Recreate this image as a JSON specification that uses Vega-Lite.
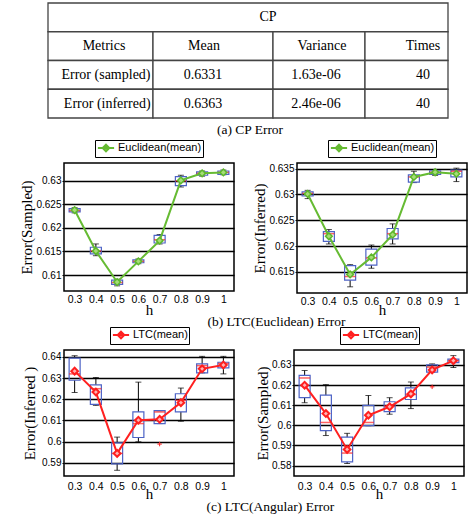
{
  "$schema": "https://vega.github.io/schema/vega-lite/v6.json",
  "padding": {"left": 19, "top": 2, "right": 0, "bottom": 0},
  "autosize": {"type": "pad"},
  "background": "white",
  "spacing": 1,
  "resolve": {"scale": {"color": "independent"}, "legend": {"color": "independent"}},
  "datasets": {
    "table": [
      {"row": "r0", "col_start": 0, "col_end": 1, "label_pos": 0.55, "label": "CP"},
      {"row": "r1", "col_start": 0, "col_end": 0.2625, "label_pos": 0.14, "label": "Metrics"},
      {"row": "r1", "col_start": 0.2625, "col_end": 0.5625, "label_pos": 0.39, "label": "Mean"},
      {"row": "r1", "col_start": 0.5625, "col_end": 0.7925, "label_pos": 0.685, "label": "Variance"},
      {"row": "r1", "col_start": 0.7925, "col_end": 1, "label_pos": 0.9375, "label": "Times"},
      {"row": "r2", "col_start": 0, "col_end": 0.2625, "label_pos": 0.145, "label": "Error (sampled)"},
      {"row": "r2", "col_start": 0.2625, "col_end": 0.5625, "label_pos": 0.3875, "label": "0.6331"},
      {"row": "r2", "col_start": 0.5625, "col_end": 0.7925, "label_pos": 0.67, "label": "1.63e-06"},
      {"row": "r2", "col_start": 0.7925, "col_end": 1, "label_pos": 0.9375, "label": "40"},
      {"row": "r3", "col_start": 0, "col_end": 0.2625, "label_pos": 0.148, "label": "Error (inferred)"},
      {"row": "r3", "col_start": 0.2625, "col_end": 0.5625, "label_pos": 0.3875, "label": "0.6363"},
      {"row": "r3", "col_start": 0.5625, "col_end": 0.7925, "label_pos": 0.67, "label": "2.46e-06"},
      {"row": "r3", "col_start": 0.7925, "col_end": 1, "label_pos": 0.9375, "label": "40"}
    ],
    "eucSampled": [
      {"h": "0.3", "lo": 0.6232, "q1": 0.6234, "med": 0.6237, "q3": 0.6241, "hi": 0.6243, "mean": 0.6238, "s": "Euclidean(mean)"},
      {"h": "0.4", "lo": 0.6141, "q1": 0.6145, "med": 0.6151, "q3": 0.6159, "hi": 0.6166, "mean": 0.6151, "s": "Euclidean(mean)"},
      {"h": "0.5", "lo": 0.6077, "q1": 0.6080, "med": 0.6084, "q3": 0.6089, "hi": 0.6091, "mean": 0.6085, "s": "Euclidean(mean)"},
      {"h": "0.6", "lo": 0.6124, "q1": 0.6126, "med": 0.6129, "q3": 0.6132, "hi": 0.6134, "mean": 0.6129, "s": "Euclidean(mean)"},
      {"h": "0.7", "lo": 0.6166, "q1": 0.6168, "med": 0.6175, "q3": 0.6184, "hi": 0.6186, "mean": 0.6173, "s": "Euclidean(mean)"},
      {"h": "0.8", "lo": 0.6287, "q1": 0.6290, "med": 0.6300, "q3": 0.6309, "hi": 0.6312, "mean": 0.6301, "s": "Euclidean(mean)"},
      {"h": "0.9", "lo": 0.6310, "q1": 0.6312, "med": 0.6316, "q3": 0.6319, "hi": 0.6321, "mean": 0.6316, "s": "Euclidean(mean)"},
      {"h": "1", "lo": 0.6313, "q1": 0.6314, "med": 0.6318, "q3": 0.6321, "hi": 0.6323, "mean": 0.6318, "s": "Euclidean(mean)"}
    ],
    "eucInferred": [
      {"h": "0.3", "lo": 0.6292, "q1": 0.6297, "med": 0.6302, "q3": 0.6305, "hi": 0.6308, "mean": 0.6301, "s": "Euclidean(mean)"},
      {"h": "0.4", "lo": 0.6204, "q1": 0.6209, "med": 0.6224, "q3": 0.6228, "hi": 0.6232, "mean": 0.6219, "s": "Euclidean(mean)"},
      {"h": "0.5", "lo": 0.6121, "q1": 0.6134, "med": 0.6141, "q3": 0.6162, "hi": 0.6164, "mean": 0.6145, "s": "Euclidean(mean)"},
      {"h": "0.6", "lo": 0.6157, "q1": 0.6163, "med": 0.6177, "q3": 0.6194, "hi": 0.6202, "mean": 0.6178, "s": "Euclidean(mean)"},
      {"h": "0.7", "lo": 0.6204, "q1": 0.6214, "med": 0.6224, "q3": 0.6234, "hi": 0.6243, "mean": 0.6222, "s": "Euclidean(mean)"},
      {"h": "0.8", "lo": 0.6323, "q1": 0.6324, "med": 0.6334, "q3": 0.6338, "hi": 0.6345, "mean": 0.6334, "s": "Euclidean(mean)"},
      {"h": "0.9", "lo": 0.6337, "q1": 0.6339, "med": 0.6343, "q3": 0.6346, "hi": 0.6348, "mean": 0.6343, "s": "Euclidean(mean)"},
      {"h": "1", "lo": 0.6325, "q1": 0.6334, "med": 0.6345, "q3": 0.6347, "hi": 0.6351, "mean": 0.6340, "s": "Euclidean(mean)"}
    ],
    "ltcInferred": [
      {"h": "0.3", "lo": 0.6232, "q1": 0.6290, "med": 0.6320, "q3": 0.6395, "hi": 0.6406, "mean": 0.6333, "s": "LTC(mean)"},
      {"h": "0.4", "lo": 0.6171, "q1": 0.6176, "med": 0.6250, "q3": 0.6268, "hi": 0.6303, "mean": 0.6234, "s": "LTC(mean)"},
      {"h": "0.5", "lo": 0.5864, "q1": 0.5894, "med": 0.5944, "q3": 0.5994, "hi": 0.6021, "mean": 0.5944, "s": "LTC(mean)"},
      {"h": "0.6", "lo": 0.5999, "q1": 0.6019, "med": 0.6085, "q3": 0.6140, "hi": 0.6281, "mean": 0.6101, "s": "LTC(mean)"},
      {"h": "0.7", "lo": 0.6085, "q1": 0.6085, "med": 0.6140, "q3": 0.6146, "hi": 0.6146, "mean": 0.6105, "out": 0.5988, "s": "LTC(mean)"},
      {"h": "0.8", "lo": 0.6096, "q1": 0.6140, "med": 0.6195, "q3": 0.6226, "hi": 0.6253, "mean": 0.6184, "s": "LTC(mean)"},
      {"h": "0.9", "lo": 0.6325, "q1": 0.6325, "med": 0.6359, "q3": 0.6367, "hi": 0.6403, "mean": 0.6344, "s": "LTC(mean)"},
      {"h": "1", "lo": 0.6320, "q1": 0.6348, "med": 0.6369, "q3": 0.6375, "hi": 0.6403, "mean": 0.6362, "s": "LTC(mean)"}
    ],
    "ltcSampled": [
      {"h": "0.3", "lo": 0.6112, "q1": 0.6137, "med": 0.6235, "q3": 0.6248, "hi": 0.6272, "mean": 0.6199, "s": "LTC(mean)"},
      {"h": "0.4", "lo": 0.5949, "q1": 0.5973, "med": 0.6014, "q3": 0.6150, "hi": 0.6202, "mean": 0.6058, "s": "LTC(mean)"},
      {"h": "0.5", "lo": 0.5810, "q1": 0.5818, "med": 0.5862, "q3": 0.5941, "hi": 0.5960, "mean": 0.5880, "s": "LTC(mean)"},
      {"h": "0.6", "lo": 0.5998, "q1": 0.5998, "med": 0.6014, "q3": 0.6099, "hi": 0.6148, "mean": 0.6050, "s": "LTC(mean)"},
      {"h": "0.7", "lo": 0.6055, "q1": 0.6068, "med": 0.6096, "q3": 0.6117, "hi": 0.6137, "mean": 0.6092, "s": "LTC(mean)"},
      {"h": "0.8", "lo": 0.6083, "q1": 0.6128, "med": 0.6153, "q3": 0.6186, "hi": 0.6215, "mean": 0.6156, "s": "LTC(mean)"},
      {"h": "0.9", "lo": 0.6264, "q1": 0.6264, "med": 0.6289, "q3": 0.6300, "hi": 0.6305, "mean": 0.6275, "out": 0.6191, "s": "LTC(mean)"},
      {"h": "1", "lo": 0.6287, "q1": 0.6311, "med": 0.6321, "q3": 0.6329, "hi": 0.6346, "mean": 0.6321, "s": "LTC(mean)"}
    ]
  },
  "vconcat": [
    {
      "width": 384,
      "height": 115,
      "view": {"stroke": null},
      "data": {"name": "table"},
      "title": {"text": "(a) CP Error", "orient": "bottom", "anchor": "middle", "offset": 4, "dx": -6},
      "layer": [
        {
          "mark": {"type": "rect", "fill": "white", "stroke": "#444", "strokeWidth": 1.3},
          "encoding": {
            "x": {"field": "col_start", "type": "quantitative", "scale": {"domain": [0.04, 1], "nice": false, "zero": false}, "axis": null},
            "x2": {"field": "col_end"},
            "y": {"field": "row", "type": "ordinal", "scale": {"type": "band", "domain": ["r0", "r1", "r2", "r3"], "paddingInner": 0, "paddingOuter": 0}, "axis": null}
          }
        },
        {
          "mark": {"type": "text", "font": "Liberation Serif", "fontSize": 14, "fontWeight": "normal", "color": "black", "baseline": "middle"},
          "encoding": {
            "x": {"field": "label_pos", "type": "quantitative"},
            "y": {"field": "row", "type": "ordinal"},
            "text": {"field": "label"}
          }
        }
      ]
    },
    {
      "spacing": -4,
      "resolve": {"scale": {"color": "independent"}, "legend": {"color": "independent"}},
      "vconcat": [
        {
          "title": {"text": "(b) LTC(Euclidean) Error", "orient": "bottom", "anchor": "middle", "offset": -3, "dx": 33, "dy": 0},
          "spacing": 17,
          "resolve": {"scale": {"color": "independent"}, "legend": {"color": "independent"}},
          "hconcat": [
            {
              "width": 170, "height": 128,
              "data": {"name": "eucSampled"},
              "encoding": {"x": {"field": "h", "type": "ordinal", "scale": {"type": "point", "padding": 0.5}, "axis": {"title": "h", "labelAngle": 0, "ticks": false, "domain": false, "labelPadding": 3, "titlePadding": -2}}},
              "layer": [
                {"mark": {"type": "rule", "color": "black", "strokeWidth": 1}, "encoding": {"y": {"field": "lo", "type": "quantitative", "scale": {"domain": [0.6066, 0.6338], "nice": false, "zero": false}, "axis": {"title": "Error(Sampled)", "values": [0.61, 0.615, 0.62, 0.625, 0.63], "format": "~g", "labelOverlap": false}}, "y2": {"field": "q1"}}},
                {"mark": {"type": "rule", "color": "black", "strokeWidth": 1}, "encoding": {"y": {"field": "q3", "type": "quantitative", "scale": {"domain": [0.6066, 0.6338], "nice": false, "zero": false}, "axis": {"title": "Error(Sampled)", "values": [0.61, 0.615, 0.62, 0.625, 0.63], "format": "~g", "labelOverlap": false}}, "y2": {"field": "hi"}}},
                {"mark": {"type": "tick", "color": "black", "size": 6, "thickness": 1, "orient": "horizontal"}, "encoding": {"y": {"field": "lo", "type": "quantitative", "scale": {"domain": [0.6066, 0.6338], "nice": false, "zero": false}, "axis": {"title": "Error(Sampled)", "values": [0.61, 0.615, 0.62, 0.625, 0.63], "format": "~g", "labelOverlap": false}}}},
                {"mark": {"type": "tick", "color": "black", "size": 6, "thickness": 1, "orient": "horizontal"}, "encoding": {"y": {"field": "hi", "type": "quantitative", "scale": {"domain": [0.6066, 0.6338], "nice": false, "zero": false}, "axis": {"title": "Error(Sampled)", "values": [0.61, 0.615, 0.62, 0.625, 0.63], "format": "~g", "labelOverlap": false}}}},
                {"mark": {"type": "bar", "width": 11, "fill": "white", "fillOpacity": 0, "stroke": "#4d63c6", "strokeWidth": 1.2}, "encoding": {"y": {"field": "q1", "type": "quantitative", "scale": {"domain": [0.6066, 0.6338], "nice": false, "zero": false}, "axis": {"title": "Error(Sampled)", "values": [0.61, 0.615, 0.62, 0.625, 0.63], "format": "~g", "labelOverlap": false}}, "y2": {"field": "q3"}}},
                {"mark": {"type": "tick", "color": "#ff2020", "size": 11, "thickness": 1.5, "orient": "horizontal"}, "encoding": {"y": {"field": "med", "type": "quantitative", "scale": {"domain": [0.6066, 0.6338], "nice": false, "zero": false}, "axis": {"title": "Error(Sampled)", "values": [0.61, 0.615, 0.62, 0.625, 0.63], "format": "~g", "labelOverlap": false}}}},
                {"mark": {"type": "line", "strokeWidth": 2}, "encoding": {"y": {"field": "mean", "type": "quantitative", "scale": {"domain": [0.6066, 0.6338], "nice": false, "zero": false}, "axis": {"title": "Error(Sampled)", "values": [0.61, 0.615, 0.62, 0.625, 0.63], "format": "~g", "labelOverlap": false}}, "color": {"field": "s", "type": "nominal", "scale": {"range": ["#66bb33"]}, "legend": {"title": null, "encode": {"symbols": {"update": {"fill": {"value": "#9fd870"}, "stroke": {"value": "#5db82c"}}}}}}}},
                {"mark": {"type": "point", "shape": "diamond", "filled": true, "size": 45, "fill": "#a6dc78", "stroke": "#5db82c", "strokeWidth": 1.5, "opacity": 1}, "encoding": {"y": {"field": "mean", "type": "quantitative", "scale": {"domain": [0.6066, 0.6338], "nice": false, "zero": false}, "axis": {"title": "Error(Sampled)", "values": [0.61, 0.615, 0.62, 0.625, 0.63], "format": "~g", "labelOverlap": false}}}}
              ]
            },
            {
              "width": 170, "height": 130,
              "data": {"name": "eucInferred"},
              "encoding": {"x": {"field": "h", "type": "ordinal", "scale": {"type": "point", "padding": 0.5}, "axis": {"title": "h", "labelAngle": 0, "ticks": false, "domain": false, "labelPadding": 3, "titlePadding": -4}}},
              "layer": [
                {"mark": {"type": "rule", "color": "black", "strokeWidth": 1}, "encoding": {"y": {"field": "lo", "type": "quantitative", "scale": {"domain": [0.6109, 0.6361], "nice": false, "zero": false}, "axis": {"title": "Error(Inferred)", "values": [0.615, 0.62, 0.625, 0.63, 0.635], "format": "~g", "labelOverlap": false}}, "y2": {"field": "q1"}}},
                {"mark": {"type": "rule", "color": "black", "strokeWidth": 1}, "encoding": {"y": {"field": "q3", "type": "quantitative", "scale": {"domain": [0.6109, 0.6361], "nice": false, "zero": false}, "axis": {"title": "Error(Inferred)", "values": [0.615, 0.62, 0.625, 0.63, 0.635], "format": "~g", "labelOverlap": false}}, "y2": {"field": "hi"}}},
                {"mark": {"type": "tick", "color": "black", "size": 6, "thickness": 1, "orient": "horizontal"}, "encoding": {"y": {"field": "lo", "type": "quantitative", "scale": {"domain": [0.6109, 0.6361], "nice": false, "zero": false}, "axis": {"title": "Error(Inferred)", "values": [0.615, 0.62, 0.625, 0.63, 0.635], "format": "~g", "labelOverlap": false}}}},
                {"mark": {"type": "tick", "color": "black", "size": 6, "thickness": 1, "orient": "horizontal"}, "encoding": {"y": {"field": "hi", "type": "quantitative", "scale": {"domain": [0.6109, 0.6361], "nice": false, "zero": false}, "axis": {"title": "Error(Inferred)", "values": [0.615, 0.62, 0.625, 0.63, 0.635], "format": "~g", "labelOverlap": false}}}},
                {"mark": {"type": "bar", "width": 11, "fill": "white", "fillOpacity": 0, "stroke": "#4d63c6", "strokeWidth": 1.2}, "encoding": {"y": {"field": "q1", "type": "quantitative", "scale": {"domain": [0.6109, 0.6361], "nice": false, "zero": false}, "axis": {"title": "Error(Inferred)", "values": [0.615, 0.62, 0.625, 0.63, 0.635], "format": "~g", "labelOverlap": false}}, "y2": {"field": "q3"}}},
                {"mark": {"type": "tick", "color": "#ff2020", "size": 11, "thickness": 1.5, "orient": "horizontal"}, "encoding": {"y": {"field": "med", "type": "quantitative", "scale": {"domain": [0.6109, 0.6361], "nice": false, "zero": false}, "axis": {"title": "Error(Inferred)", "values": [0.615, 0.62, 0.625, 0.63, 0.635], "format": "~g", "labelOverlap": false}}}},
                {"mark": {"type": "line", "strokeWidth": 2}, "encoding": {"y": {"field": "mean", "type": "quantitative", "scale": {"domain": [0.6109, 0.6361], "nice": false, "zero": false}, "axis": {"title": "Error(Inferred)", "values": [0.615, 0.62, 0.625, 0.63, 0.635], "format": "~g", "labelOverlap": false}}, "color": {"field": "s", "type": "nominal", "scale": {"range": ["#66bb33"]}, "legend": {"title": null, "encode": {"symbols": {"update": {"fill": {"value": "#9fd870"}, "stroke": {"value": "#5db82c"}}}}}}}},
                {"mark": {"type": "point", "shape": "diamond", "filled": true, "size": 45, "fill": "#a6dc78", "stroke": "#5db82c", "strokeWidth": 1.5, "opacity": 1}, "encoding": {"y": {"field": "mean", "type": "quantitative", "scale": {"domain": [0.6109, 0.6361], "nice": false, "zero": false}, "axis": {"title": "Error(Inferred)", "values": [0.615, 0.62, 0.625, 0.63, 0.635], "format": "~g", "labelOverlap": false}}}}
              ]
            }
          ]
        },
        {
          "title": {"text": "(c) LTC(Angular) Error", "orient": "bottom", "anchor": "middle", "offset": -4, "dx": 27, "dy": 2},
          "spacing": 19,
          "resolve": {"scale": {"color": "independent"}, "legend": {"color": "independent"}},
          "hconcat": [
            {
              "width": 170, "height": 126,
              "data": {"name": "ltcInferred"},
              "encoding": {"x": {"field": "h", "type": "ordinal", "scale": {"type": "point", "padding": 0.5}, "axis": {"title": "h", "labelAngle": 0, "ticks": false, "domain": false, "labelPadding": 5, "titlePadding": -5}}},
              "layer": [
                {"mark": {"type": "rule", "color": "black", "strokeWidth": 1}, "encoding": {"y": {"field": "lo", "type": "quantitative", "scale": {"domain": [0.5837, 0.6433], "nice": false, "zero": false}, "axis": {"title": "Error(Inferred )", "values": [0.59, 0.6, 0.61, 0.62, 0.63, 0.64], "format": "~g", "labelOverlap": false, "titlePadding": 4}}, "y2": {"field": "q1"}}},
                {"mark": {"type": "rule", "color": "black", "strokeWidth": 1}, "encoding": {"y": {"field": "q3", "type": "quantitative", "scale": {"domain": [0.5837, 0.6433], "nice": false, "zero": false}, "axis": {"title": "Error(Inferred )", "values": [0.59, 0.6, 0.61, 0.62, 0.63, 0.64], "format": "~g", "labelOverlap": false, "titlePadding": 4}}, "y2": {"field": "hi"}}},
                {"mark": {"type": "tick", "color": "black", "size": 6, "thickness": 1, "orient": "horizontal"}, "encoding": {"y": {"field": "lo", "type": "quantitative", "scale": {"domain": [0.5837, 0.6433], "nice": false, "zero": false}, "axis": {"title": "Error(Inferred )", "values": [0.59, 0.6, 0.61, 0.62, 0.63, 0.64], "format": "~g", "labelOverlap": false, "titlePadding": 4}}}},
                {"mark": {"type": "tick", "color": "black", "size": 6, "thickness": 1, "orient": "horizontal"}, "encoding": {"y": {"field": "hi", "type": "quantitative", "scale": {"domain": [0.5837, 0.6433], "nice": false, "zero": false}, "axis": {"title": "Error(Inferred )", "values": [0.59, 0.6, 0.61, 0.62, 0.63, 0.64], "format": "~g", "labelOverlap": false, "titlePadding": 4}}}},
                {"mark": {"type": "bar", "width": 11, "fill": "white", "fillOpacity": 0, "stroke": "#4d63c6", "strokeWidth": 1.2}, "encoding": {"y": {"field": "q1", "type": "quantitative", "scale": {"domain": [0.5837, 0.6433], "nice": false, "zero": false}, "axis": {"title": "Error(Inferred )", "values": [0.59, 0.6, 0.61, 0.62, 0.63, 0.64], "format": "~g", "labelOverlap": false, "titlePadding": 4}}, "y2": {"field": "q3"}}},
                {"mark": {"type": "tick", "color": "#ff2020", "size": 11, "thickness": 1.5, "orient": "horizontal"}, "encoding": {"y": {"field": "med", "type": "quantitative", "scale": {"domain": [0.5837, 0.6433], "nice": false, "zero": false}, "axis": {"title": "Error(Inferred )", "values": [0.59, 0.6, 0.61, 0.62, 0.63, 0.64], "format": "~g", "labelOverlap": false, "titlePadding": 4}}}},
                {"mark": {"type": "point", "shape": "M-1,0L1,0M0,-1L0,1", "filled": false, "size": 20, "color": "#ff2020", "strokeWidth": 1, "opacity": 1}, "encoding": {"y": {"field": "out", "type": "quantitative", "scale": {"domain": [0.5837, 0.6433], "nice": false, "zero": false}, "axis": {"title": "Error(Inferred )", "values": [0.59, 0.6, 0.61, 0.62, 0.63, 0.64], "format": "~g", "labelOverlap": false, "titlePadding": 4}}}},
                {"mark": {"type": "line", "strokeWidth": 2}, "encoding": {"y": {"field": "mean", "type": "quantitative", "scale": {"domain": [0.5837, 0.6433], "nice": false, "zero": false}, "axis": {"title": "Error(Inferred )", "values": [0.59, 0.6, 0.61, 0.62, 0.63, 0.64], "format": "~g", "labelOverlap": false, "titlePadding": 4}}, "color": {"field": "s", "type": "nominal", "scale": {"range": ["#ff2020"]}, "legend": {"title": null, "encode": {"symbols": {"update": {"fill": {"value": "#ffb4b4"}, "stroke": {"value": "#ff2020"}}}}}}}},
                {"mark": {"type": "point", "shape": "diamond", "filled": true, "size": 45, "fill": "#ffb4b4", "stroke": "#ff2020", "strokeWidth": 2, "opacity": 1}, "encoding": {"y": {"field": "mean", "type": "quantitative", "scale": {"domain": [0.5837, 0.6433], "nice": false, "zero": false}, "axis": {"title": "Error(Inferred )", "values": [0.59, 0.6, 0.61, 0.62, 0.63, 0.64], "format": "~g", "labelOverlap": false, "titlePadding": 4}}}}
              ]
            },
            {
              "width": 170, "height": 126,
              "data": {"name": "ltcSampled"},
              "encoding": {"x": {"field": "h", "type": "ordinal", "scale": {"type": "point", "padding": 0.5}, "axis": {"title": "h", "labelAngle": 0, "ticks": false, "domain": false, "labelPadding": 5, "titlePadding": -5}}},
              "layer": [
                {"mark": {"type": "rule", "color": "black", "strokeWidth": 1}, "encoding": {"y": {"field": "lo", "type": "quantitative", "scale": {"domain": [0.5748, 0.6374], "nice": false, "zero": false}, "axis": {"title": "Error(Sampled)", "values": [0.58, 0.59, 0.6, 0.61, 0.62, 0.63], "format": "~g", "labelOverlap": false}}, "y2": {"field": "q1"}}},
                {"mark": {"type": "rule", "color": "black", "strokeWidth": 1}, "encoding": {"y": {"field": "q3", "type": "quantitative", "scale": {"domain": [0.5748, 0.6374], "nice": false, "zero": false}, "axis": {"title": "Error(Sampled)", "values": [0.58, 0.59, 0.6, 0.61, 0.62, 0.63], "format": "~g", "labelOverlap": false}}, "y2": {"field": "hi"}}},
                {"mark": {"type": "tick", "color": "black", "size": 6, "thickness": 1, "orient": "horizontal"}, "encoding": {"y": {"field": "lo", "type": "quantitative", "scale": {"domain": [0.5748, 0.6374], "nice": false, "zero": false}, "axis": {"title": "Error(Sampled)", "values": [0.58, 0.59, 0.6, 0.61, 0.62, 0.63], "format": "~g", "labelOverlap": false}}}},
                {"mark": {"type": "tick", "color": "black", "size": 6, "thickness": 1, "orient": "horizontal"}, "encoding": {"y": {"field": "hi", "type": "quantitative", "scale": {"domain": [0.5748, 0.6374], "nice": false, "zero": false}, "axis": {"title": "Error(Sampled)", "values": [0.58, 0.59, 0.6, 0.61, 0.62, 0.63], "format": "~g", "labelOverlap": false}}}},
                {"mark": {"type": "bar", "width": 11, "fill": "white", "fillOpacity": 0, "stroke": "#4d63c6", "strokeWidth": 1.2}, "encoding": {"y": {"field": "q1", "type": "quantitative", "scale": {"domain": [0.5748, 0.6374], "nice": false, "zero": false}, "axis": {"title": "Error(Sampled)", "values": [0.58, 0.59, 0.6, 0.61, 0.62, 0.63], "format": "~g", "labelOverlap": false}}, "y2": {"field": "q3"}}},
                {"mark": {"type": "tick", "color": "#ff2020", "size": 11, "thickness": 1.5, "orient": "horizontal"}, "encoding": {"y": {"field": "med", "type": "quantitative", "scale": {"domain": [0.5748, 0.6374], "nice": false, "zero": false}, "axis": {"title": "Error(Sampled)", "values": [0.58, 0.59, 0.6, 0.61, 0.62, 0.63], "format": "~g", "labelOverlap": false}}}},
                {"mark": {"type": "point", "shape": "M-1,0L1,0M0,-1L0,1", "filled": false, "size": 20, "color": "#ff2020", "strokeWidth": 1, "opacity": 1}, "encoding": {"y": {"field": "out", "type": "quantitative", "scale": {"domain": [0.5748, 0.6374], "nice": false, "zero": false}, "axis": {"title": "Error(Sampled)", "values": [0.58, 0.59, 0.6, 0.61, 0.62, 0.63], "format": "~g", "labelOverlap": false}}}},
                {"mark": {"type": "line", "strokeWidth": 2}, "encoding": {"y": {"field": "mean", "type": "quantitative", "scale": {"domain": [0.5748, 0.6374], "nice": false, "zero": false}, "axis": {"title": "Error(Sampled)", "values": [0.58, 0.59, 0.6, 0.61, 0.62, 0.63], "format": "~g", "labelOverlap": false}}, "color": {"field": "s", "type": "nominal", "scale": {"range": ["#ff2020"]}, "legend": {"title": null, "encode": {"symbols": {"update": {"fill": {"value": "#ffb4b4"}, "stroke": {"value": "#ff2020"}}}}}}}},
                {"mark": {"type": "point", "shape": "diamond", "filled": true, "size": 45, "fill": "#ffb4b4", "stroke": "#ff2020", "strokeWidth": 2, "opacity": 1}, "encoding": {"y": {"field": "mean", "type": "quantitative", "scale": {"domain": [0.5748, 0.6374], "nice": false, "zero": false}, "axis": {"title": "Error(Sampled)", "values": [0.58, 0.59, 0.6, 0.61, 0.62, 0.63], "format": "~g", "labelOverlap": false}}}}
              ]
            }
          ]
        }
      ]
    }
  ],
  "config": {
    "view": {"stroke": "black", "strokeWidth": 1.5},
    "axis": {"labelFont": "Liberation Sans", "labelFontSize": 10, "labelColor": "black", "titleFont": "Liberation Serif", "titleFontSize": 15, "titleFontWeight": "normal", "titleColor": "black"},
    "axisY": {"grid": true, "gridColor": "black", "gridWidth": 1.5, "gridOpacity": 1, "domain": false, "tickSize": 2, "tickColor": "black", "labelPadding": 1, "titlePadding": 1},
    "axisX": {"grid": false, "labelFontSize": 10.5},
    "text": {"font": "Liberation Serif"},
    "legend": {"orient": "top", "labelFont": "Liberation Sans", "labelFontSize": 11, "labelColor": "black", "strokeColor": "black", "fillColor": "white", "padding": 1, "offset": 6, "symbolType": "M-1.35,0L1.35,0M0,-0.55L0.55,0L0,0.55L-0.55,0Z", "symbolSize": 144, "symbolStrokeWidth": 2, "symbolOffset": 3, "labelOffset": 5, "layout": {"top": {"anchor": "middle"}}},
    "title": {"font": "Liberation Serif", "fontSize": 13.5, "fontWeight": "normal", "color": "black"}
  }
}
